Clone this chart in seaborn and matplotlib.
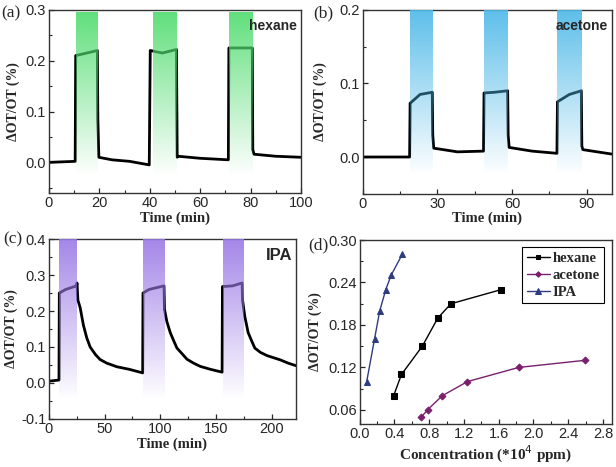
import numpy as np
import pandas as pd
import matplotlib
matplotlib.use("Agg")
import matplotlib.pyplot as plt
from matplotlib.ticker import MultipleLocator
from matplotlib.colors import to_rgb
import seaborn as sns

# ---- data ----
a_time = [0, 10.4, 10.6, 15, 19.2, 19.4, 19.8, 25, 32, 39.8, 40.2, 45, 50.6, 50.9, 51.3, 60, 71.2, 71.4, 76, 80.7, 80.9, 81.4, 90, 100]
a_val = [0.0, 0.002, 0.21, 0.215, 0.22, 0.085, 0.01, 0.005, 0.002, -0.005, 0.22, 0.215, 0.222, 0.01, 0.012, 0.008, 0.005, 0.225, 0.225, 0.225, 0.025, 0.016, 0.012, 0.01]
a_shade = [(10.6, 19.1), (41.2, 50.6), (71.5, 80.7)]

b_time = [0, 10, 18.8, 19.0, 23, 27.9, 28.1, 28.5, 38, 48.5, 48.7, 53, 58.2, 58.4, 58.8, 68, 78.0, 78.2, 83, 87.8, 88.0, 88.4, 100]
b_val = [0.0, 0.0, 0.0, 0.073, 0.085, 0.088, 0.03, 0.012, 0.007, 0.008, 0.087, 0.088, 0.09, 0.03, 0.013, 0.008, 0.005, 0.075, 0.085, 0.09, 0.015, 0.01, 0.004]
b_shade = [(19.0, 28.1), (48.8, 58.4), (78.2, 88.0)]

c_time = [0, 9, 9.3, 15, 24.8, 25.2, 26, 28, 31, 34, 37, 42, 46, 52, 61, 72, 84.2, 84.5, 90, 103.4, 103.8, 106, 109, 112, 115, 120, 124, 130, 136, 145, 155.6, 155.9, 165, 173.6, 174, 176, 179, 182, 185, 190, 196, 202, 208, 215, 222]
c_val = [0.005, 0.008, 0.25, 0.26, 0.27, 0.278, 0.23, 0.21, 0.16, 0.125, 0.1, 0.078, 0.065, 0.055, 0.045, 0.038, 0.028, 0.25, 0.26, 0.27, 0.205, 0.17, 0.14, 0.118, 0.097, 0.08, 0.066, 0.055, 0.046, 0.038, 0.03, 0.268, 0.27, 0.278, 0.23, 0.185, 0.14, 0.118, 0.097, 0.085, 0.076, 0.07, 0.064, 0.055, 0.048]
c_shade = [(9.3, 25.1), (84.4, 103.6), (156.0, 174.0)]

ipa_conc = [0.08, 0.17, 0.23, 0.30, 0.36, 0.49]
ipa_resp = [0.10, 0.16, 0.20, 0.23, 0.25, 0.28]
hex_conc = [0.39, 0.48, 0.72, 0.90, 1.05, 1.63]
hex_resp = [0.08, 0.11, 0.15, 0.19, 0.21, 0.23]
ace_conc = [0.71, 0.78, 0.95, 1.24, 1.83, 2.59]
ace_resp = [0.05, 0.06, 0.08, 0.10, 0.12, 0.13]

sns.set_style("ticks")
plt.rcParams["font.family"] = ["Liberation Sans", "DejaVu Sans"]
plt.rcParams["xtick.direction"] = "in"
plt.rcParams["ytick.direction"] = "in"

serif = ["Liberation Serif", "DejaVu Serif"]
fig = plt.figure(figsize=(6.16, 4.67), dpi=100)

ax_a = fig.add_axes([0.0795, 0.587, 0.409, 0.392])
ax_b = fig.add_axes([0.589, 0.585, 0.404, 0.394])
ax_c = fig.add_axes([0.0795, 0.103, 0.401, 0.385])
ax_d = fig.add_axes([0.584, 0.092, 0.409, 0.394])


def shade(ax, spans, color, y0, y1):
    rgb = to_rgb(color)
    img = np.zeros((100, 1, 4))
    img[:, 0, :3] = rgb
    img[:, 0, 3] = np.linspace(0.9, 0.02, 100)
    for x0, x1 in spans:
        ax.imshow(img, extent=[x0, x1, y0, y1], aspect="auto", zorder=3, origin="upper")


def style(ax, ylab_x):
    for s in ax.spines.values():
        s.set_linewidth(1.0)
        s.set_color("#333333")
    ax.tick_params(which="major", length=3.5, width=0.9, labelsize=10.5, pad=2)
    ax.tick_params(which="minor", length=2, width=0.8)
    ax.set_ylabel("ΔOT/OT (%)", family=serif, fontweight="bold", fontsize=10)
    ax.yaxis.set_label_coords(ylab_x, 0.5)


def trace(ax, t, v, spans, color, xlim, ylim, shade_y, name, xmaj, ymaj, name_size, ylab_x):
    df = pd.DataFrame({"t": t, "v": v})
    sns.lineplot(data=df, x="t", y="v", ax=ax, color="black", lw=2.0, estimator=None, sort=False, zorder=2)
    shade(ax, spans, color, shade_y[0], shade_y[1])
    ax.set_xlim(*xlim)
    ax.set_ylim(*ylim)
    ax.xaxis.set_major_locator(MultipleLocator(xmaj))
    ax.xaxis.set_minor_locator(MultipleLocator(xmaj / 2))
    ax.yaxis.set_major_locator(MultipleLocator(ymaj))
    ax.yaxis.set_minor_locator(MultipleLocator(ymaj / 2))
    ax.set_xlabel("Time (min)", family=serif, fontweight="bold", fontsize=10.5, labelpad=1)
    style(ax, ylab_x)
    ax.text(0.985, 0.91, name, transform=ax.transAxes, ha="right", va="center",
            fontsize=name_size, fontweight="bold", zorder=5)


trace(ax_a, a_time, a_val, a_shade, "#4fdc6e", (0, 100), (-0.06, 0.3), (-0.02, 0.296), "hexane", 20, 0.1, 10, -0.115)
trace(ax_b, b_time, b_val, b_shade, "#4cb8e8", (0, 100), (-0.05, 0.2), (-0.02, 0.2), "acetone", 30, 0.1, 10, -0.145)
trace(ax_c, c_time, c_val, c_shade, "#9a78e6", (0, 222), (-0.1, 0.4), (-0.04, 0.4), "IPA", 50, 0.1, 12, -0.125)

for ax in (ax_a, ax_b, ax_c):
    ax.yaxis.set_major_formatter(plt.FormatStrFormatter("%.1f"))
    ax.xaxis.set_major_formatter(plt.FormatStrFormatter("%d"))

# ---- panel (d) ----
series = [("hexane", hex_conc, hex_resp, "black", "s", 4),
          ("acetone", ace_conc, ace_resp, "#7a1f6c", "D", 3.5),
          ("IPA", ipa_conc, ipa_resp, "#2f3c80", "^", 5)]
for name, cx, cy, col, mk, ms in series:
    d = pd.DataFrame({"c": cx, "r": cy})
    sns.lineplot(data=d, x="c", y="r", ax=ax_d, color=col, marker=mk, markersize=ms,
                 markeredgecolor=col, lw=1.0, label=name, estimator=None)
ax_d.set_xlim(0, 2.9)
ax_d.set_ylim(0.04, 0.30)
ax_d.xaxis.set_major_locator(MultipleLocator(0.4))
ax_d.xaxis.set_minor_locator(MultipleLocator(0.2))
ax_d.yaxis.set_major_locator(MultipleLocator(0.06))
ax_d.yaxis.set_minor_locator(MultipleLocator(0.03))
ax_d.xaxis.set_major_formatter(plt.FormatStrFormatter("%.1f"))
ax_d.yaxis.set_major_formatter(plt.FormatStrFormatter("%.2f"))
ax_d.set_xlabel("Concentration (*10$^4$ ppm)", family=serif, fontweight="bold", fontsize=11, labelpad=2)
style(ax_d, -0.15)
leg = ax_d.legend(loc="upper right", prop={"family": serif, "weight": "bold", "size": 10.5},
                  frameon=True, fancybox=False, edgecolor="black", framealpha=1,
                  handlelength=1.6, handletextpad=0.2, borderpad=0.3, labelspacing=0.25,
                  borderaxespad=0.5, markerscale=0.8)
leg.get_frame().set_linewidth(0.8)

# panel letters
for lab, x, y in [("(a)", 0.002, 0.972), ("(b)", 0.508, 0.972), ("(c)", 0.006, 0.487), ("(d)", 0.5, 0.475)]:
    fig.text(x, y, lab, family=serif, fontsize=12.5, ha="left", va="center")

fig.savefig("out.png", dpi=100)
